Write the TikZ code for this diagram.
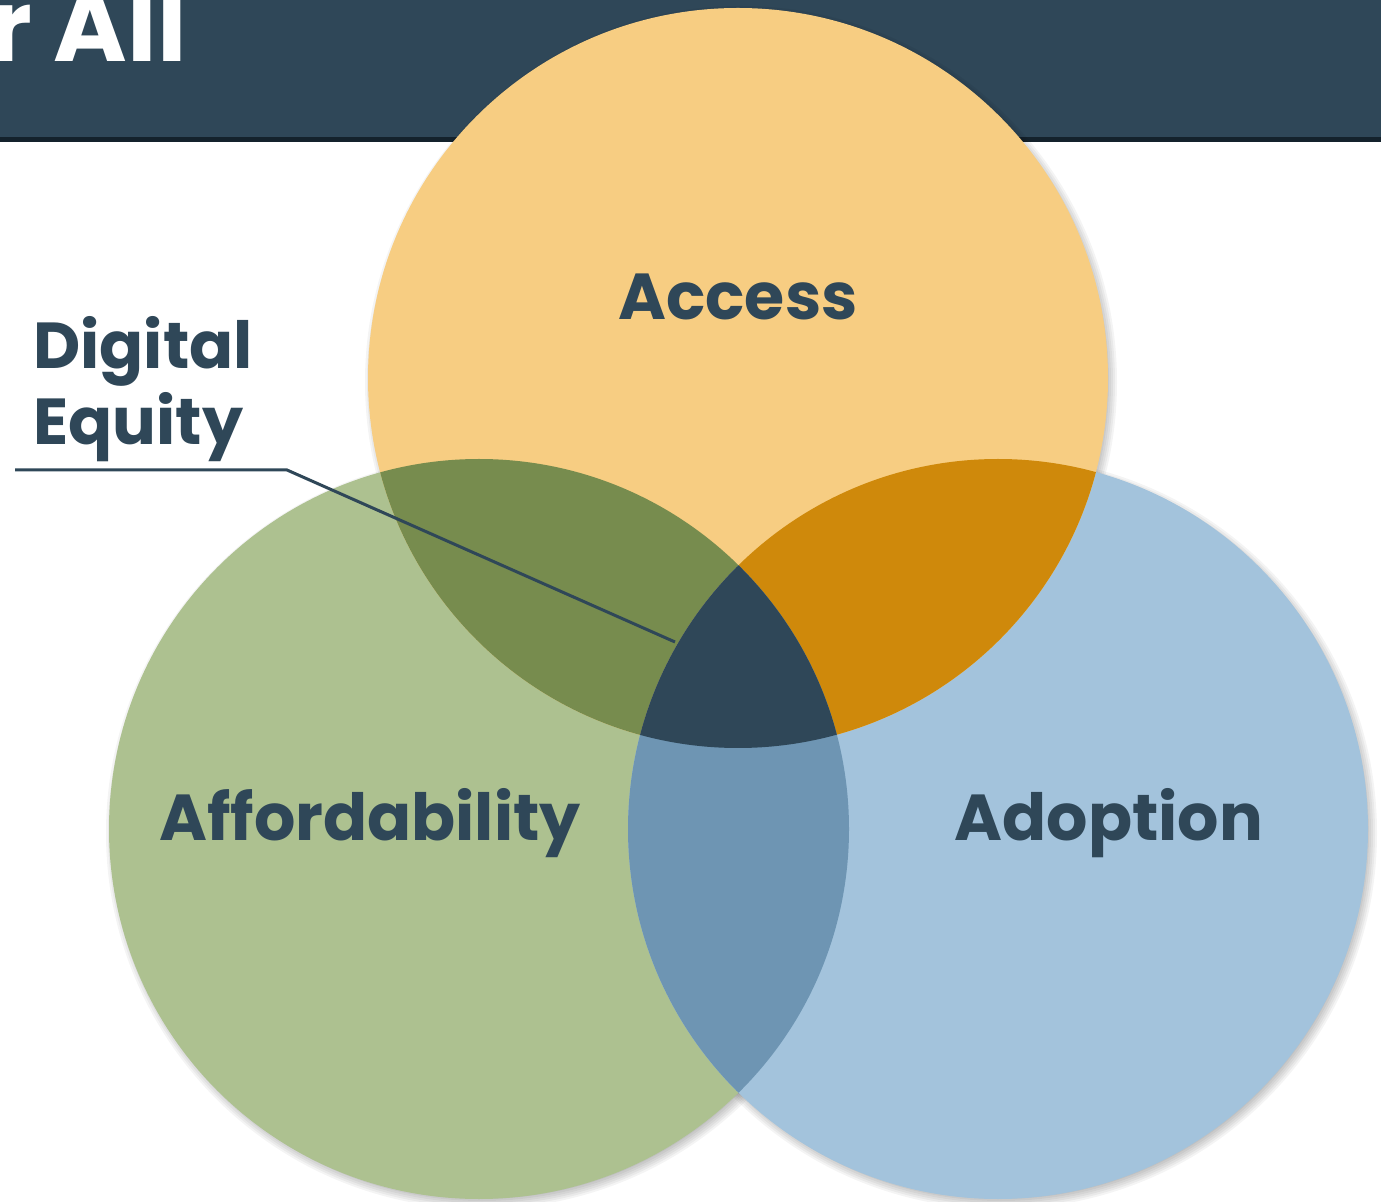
\documentclass[tikz,border=0pt]{standalone}
\usepackage{fontspec}
\setmainfont{Poppins}
\definecolor{navy}{HTML}{2F4758}
\definecolor{bannerline}{HTML}{14222C}
\definecolor{accessc}{HTML}{F7CD82}
\definecolor{affordc}{HTML}{ADC190}
\definecolor{adoptc}{HTML}{A3C3DC}
\definecolor{accaff}{HTML}{778C4E}
\definecolor{accado}{HTML}{CF890B}
\definecolor{affado}{HTML}{6E95B3}
\tikzset{
  lbl/.style={font=\fontsize{32.5}{38}\selectfont\bfseries, text=navy, inner sep=0pt},
  leader/.style={draw=navy, line width=1.5pt},
}
\begin{document}
\begin{tikzpicture}[x=0.5pt,y=-0.5pt]
\useasboundingbox (0,0) rectangle (1381,1202);
\clip (0,0) rectangle (1381,1202);
\fill[white] (0,0) rectangle (1381,1202);
% banner
\fill[navy] (0,0) rectangle (1381,139);
\fill[bannerline] (0,137) rectangle (1381,142);
\node[font=\fontsize{50}{60}\selectfont\bfseries, text=white, inner sep=0pt, anchor=base east] (title) at (187,62) {r\kern11pt All};
% centres
\coordinate (cA) at (738,378);
\coordinate (cF) at (479,829);
\coordinate (cD) at (998,829);
% shadows
\foreach \c in {cA,cF,cD}{
  \foreach \r in {366,368,...,376}{
    \fill[black,opacity=0.045] ([shift={(3,4)}]\c) circle[radius=\r];
  }
}
% circles
\fill[affordc] (cF) circle[radius=370];
\fill[adoptc] (cD) circle[radius=370];
\fill[accessc] (cA) circle[radius=370];
% pairwise overlaps
\begin{scope}
  \clip (cA) circle[radius=370];
  \fill[accaff] (cF) circle[radius=370];
  \fill[accado] (cD) circle[radius=370];
\end{scope}
\begin{scope}
  \clip (cF) circle[radius=370];
  \fill[affado] (cD) circle[radius=370];
\end{scope}
% triple overlap
\begin{scope}
  \clip (cA) circle[radius=370];
  \clip (cF) circle[radius=370];
  \fill[navy] (cD) circle[radius=370];
\end{scope}
% labels
\node[lbl, anchor=base] (access) at (738,320) {Access};
\node[lbl, anchor=base] (afford) at (370,840) {Affordability};
\node[lbl, anchor=base] (adopt) at (1109,840) {Adoption};
\node[lbl, align=left, anchor=north west] (de) at (33,316) {Digital\\Equity};
% leader line
\coordinate (l0) at (15,470);
\coordinate (l1) at (287,470);
\coordinate (l2) at (675,642);
\draw[leader] (l0) -- (l1) -- (l2);
\end{tikzpicture}
\end{document}
